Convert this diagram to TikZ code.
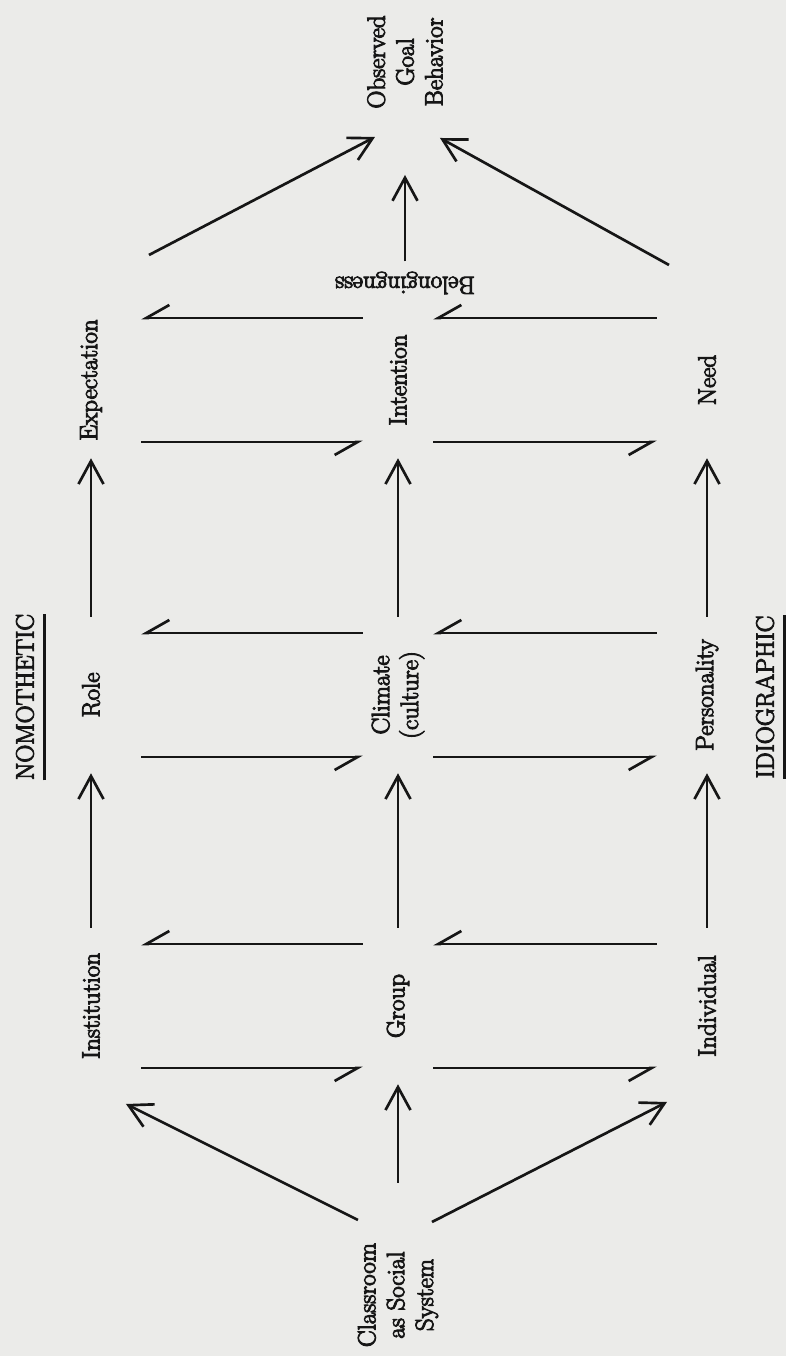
\documentclass[tikz,border=0pt]{standalone}
\usepackage{fontspec}
\setmainfont{Latin Modern Roman}[BoldFont=*, BoldFeatures={FakeBold=4}]
\usepackage{tikz}
\usetikzlibrary{arrows.meta,calc}
\definecolor{Paper}{HTML}{EBEBE9}
\definecolor{Ink}{HTML}{161616}

\begin{document}
\begin{tikzpicture}[x=0.25mm, y=0.25mm,
    txt/.style={font=\fontsize{17.8}{20.5}\selectfont\bfseries, text=Ink, align=center, inner sep=0pt},
    cell/.style={txt, minimum width=39mm, minimum height=25mm},
    mid/.style={cell, minimum height=17.5mm},
    arr/.style={-{Straight Barb[length=5.75mm,width=6.25mm]}, line width=1.9pt, draw=Ink},
    harp/.style={-{Straight Barb[length=5.75mm,width=6.5mm,right]}, line width=1.9pt, draw=Ink}]
  % the figure is set sideways on the page
  \begin{scope}[rotate=90, transform shape]
    \useasboundingbox (0,0) rectangle (1356,786);
    \fill[Paper] (0,0) rectangle (1356,786);
    \node[txt] (cls) at (61,388) {Classroom\\as Social\\System};
    \node[cell] (inst) at (350,695) {Institution};
    \node[mid] (grp) at (350,388) {Group};
    \node[cell] (ind) at (350,79) {Individual};
    \node[cell] (role) at (661,695) {Role};
    \node[mid] (clim) at (661,388) {Climate\\(culture)};
    \node[cell] (pers) at (661,79) {Personality};
    \node[cell] (exp) at (976,695) {Expectation};
    \node[mid] (int) at (976,388) {Intention};
    \node[cell] (need) at (976,79) {Need};
    \node[txt, rotate=90, inner sep=2.5mm] (bel) at (1073,381) {Belongingness};
    \node[txt] (obs) at (1294,381) {Observed\\Goal\\Behavior};
    \node[txt, inner ysep=2.6mm] (nom) at (659,761) {NOMOTHETIC};
    \node[txt, inner ysep=2.6mm] (idi) at (659,21) {IDIOGRAPHIC};
    \draw[line width=1.9pt, draw=Ink] (nom.south west) -- (nom.south east);
    \draw[line width=1.9pt, draw=Ink] (idi.south west) -- (idi.south east);
    % fan out
    \draw[arr] ($(cls)+(75,40)$) -- ($(inst)+(-98,-35)$);
    \draw[arr] ($(cls)+(112,0)$) -- (grp);
    \draw[arr] ($(cls)+(73,-34)$) -- ($(ind)+(-96,40)$);
    % along the rows
    \draw[arr] (inst) -- (role);
    \draw[arr] (grp) -- (clim);
    \draw[arr] (ind) -- (pers);
    \draw[arr] (role) -- (exp);
    \draw[arr] (clim) -- (int);
    \draw[arr] (pers) -- (need);
    % two-way exchange inside each column
    \draw[harp] ([xshift=-15.5mm]inst.south) -- ([xshift=-15.5mm]grp.north);
    \draw[harp] ([xshift=15.5mm]grp.north) -- ([xshift=15.5mm]inst.south);
    \draw[harp] ([xshift=-15.5mm]grp.south) -- ([xshift=-15.5mm]ind.north);
    \draw[harp] ([xshift=15.5mm]ind.north) -- ([xshift=15.5mm]grp.south);
    \draw[harp] ([xshift=-15.5mm]role.south) -- ([xshift=-15.5mm]clim.north);
    \draw[harp] ([xshift=15.5mm]clim.north) -- ([xshift=15.5mm]role.south);
    \draw[harp] ([xshift=-15.5mm]clim.south) -- ([xshift=-15.5mm]pers.north);
    \draw[harp] ([xshift=15.5mm]pers.north) -- ([xshift=15.5mm]clim.south);
    \draw[harp] ([xshift=-15.5mm]exp.south) -- ([xshift=-15.5mm]int.north);
    \draw[harp] ([xshift=15.5mm]int.north) -- ([xshift=15.5mm]exp.south);
    \draw[harp] ([xshift=-15.5mm]int.south) -- ([xshift=-15.5mm]need.north);
    \draw[harp] ([xshift=15.5mm]need.north) -- ([xshift=15.5mm]int.south);
    % converge on behaviour
    \draw[arr] ($(exp)+(125,-58)$) -- ($(obs)+(-75,30)$);
    \draw[arr] (bel) -- ($(obs)+(-113,0)$);
    \draw[arr] ($(need)+(115,38)$) -- ($(obs)+(-76,-35)$);
  \end{scope}
\end{tikzpicture}
\end{document}
